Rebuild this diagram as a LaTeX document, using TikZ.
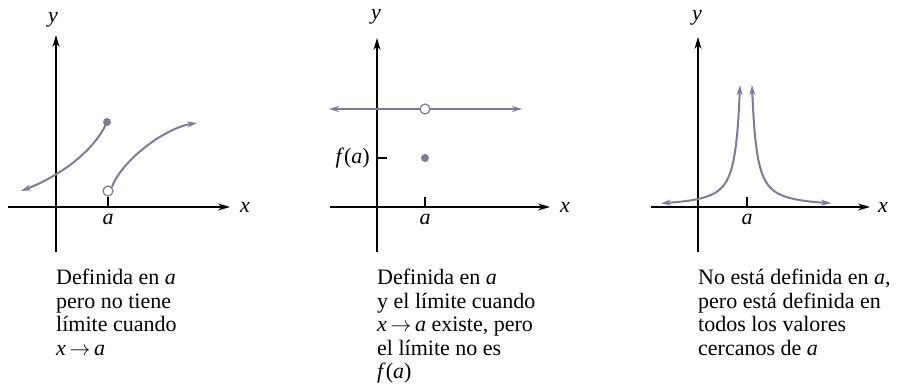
\documentclass[tikz,border=0pt]{standalone}
\usepackage{fontspec}
\setmainfont{Liberation Serif}
\usetikzlibrary{arrows.meta}
\definecolor{curvecol}{RGB}{124,124,152}
\tikzset{
  axis/.style={line width=1.2pt,-{Stealth[length=12pt,width=7pt]}},
  yaxis/.style={line width=1.2pt,-{Stealth[length=12pt,width=7pt]}},
  curve/.style={curvecol,line width=2pt},
  carrow/.style={{Stealth[length=10pt,width=6pt]}-{Stealth[length=10pt,width=6pt]}},
  cend/.style={-{Stealth[length=10pt,width=6pt]}},
  tick/.style={line width=1.2pt},
  lbl/.style={font=\fontsize{22}{24}\selectfont\itshape,inner sep=0pt},
  caption/.style={font=\fontsize{22}{23.5}\selectfont,align=left,anchor=north west,inner sep=0pt},
  fdot/.style={circle,fill=curvecol,minimum size=8pt,inner sep=0pt},
  odot/.style={circle,draw=curvecol,fill=white,line width=1.2pt,minimum size=10pt,inner sep=0pt},
}
\begin{document}
\begin{tikzpicture}[x=1pt,y=-1pt]
\useasboundingbox (0,0) rectangle (905,387);
% ---------- Panel 1 ----------
\coordinate (o1b) at (56,252);
\coordinate (o1t) at (56,35);
\coordinate (x1l) at (8,207);
\coordinate (x1r) at (230,207);
\draw[yaxis] (o1b) -- (o1t);
\draw[axis] (x1l) -- (x1r);
\node[lbl] (y1) at (53,20) {y};
\node[lbl] (xl1) at (245,207) {x};
\node[lbl] (a1) at (108,219) {a};
\node[fdot] (d1) at (107,122) {};
\node[odot] (c1) at (108,191) {};
\coordinate (t1) at (108,207);
\draw[tick] (c1.south) -- (t1);
\coordinate (l1) at (21,191);
\draw[curve,cend] (d1.center) .. controls (93,154) and (55,178) .. (l1);
\coordinate (r1) at (197,123);
\draw[curve,cend] (c1.north east) .. controls (122,160) and (165,128) .. (r1);
\node[caption] (cap1) at (56,269) {Definida en \textit{a}\\pero no tiene\\límite cuando\\\textit{x}\,$\rightarrow$\,\textit{a}};
% ---------- Panel 2 ----------
\coordinate (o2b) at (377,252);
\coordinate (o2t) at (377,38);
\coordinate (x2l) at (330,207);
\coordinate (x2r) at (550,207);
\draw[yaxis] (o2b) -- (o2t);
\draw[axis] (x2l) -- (x2r);
\node[lbl] (y2) at (376,17) {y};
\node[lbl] (xl2) at (565,207) {x};
\node[lbl] (a2) at (425,219) {a};
\coordinate (t2a) at (425,197);
\coordinate (t2b) at (425,207);
\draw[tick] (t2a) -- (t2b);
\coordinate (h2l) at (329,109);
\coordinate (h2r) at (522,109);
\draw[curve,carrow] (h2l) -- (h2r);
\node[odot] (c2) at (425,109) {};
\node[fdot] (d2) at (425,158) {};
\coordinate (f2a) at (377,158);
\coordinate (f2b) at (387,158);
\draw[tick] (f2a) -- (f2b);
\node[lbl,anchor=east,font=\fontsize{22}{24}\selectfont] (fa) at (370,158) {\textit{f}(\textit{a})};
\node[caption] (cap2) at (377,269) {Definida en \textit{a}\\y el límite cuando\\\textit{x}\,$\rightarrow$\,\textit{a} existe, pero\\el límite no es\\\textit{f}(\textit{a})};
% ---------- Panel 3 ----------
\coordinate (o3b) at (698,252);
\coordinate (o3t) at (698,37);
\coordinate (x3l) at (651,207);
\coordinate (x3r) at (870,207);
\draw[yaxis] (o3b) -- (o3t);
\draw[axis] (x3l) -- (x3r);
\node[lbl] (y3) at (697,18) {y};
\node[lbl] (xl3) at (883,207) {x};
\node[lbl] (a3) at (747,219) {a};
\coordinate (t3a) at (747,197);
\coordinate (t3b) at (747,207);
\draw[tick] (t3a) -- (t3b);
\draw[curve,carrow] plot[domain=4.443:1.792,samples=60,smooth] ({746-exp(\x)},{207-1275*exp(-1.31*\x)});
\draw[curve,carrow] plot[domain=1.792:4.443,samples=60,smooth] ({746+exp(\x)},{207-1275*exp(-1.31*\x)});
\node[caption] (cap3) at (698,269) {No está definida en \textit{a},\\pero está definida en\\todos los valores\\cercanos de \textit{a}};
\end{tikzpicture}
\end{document}
